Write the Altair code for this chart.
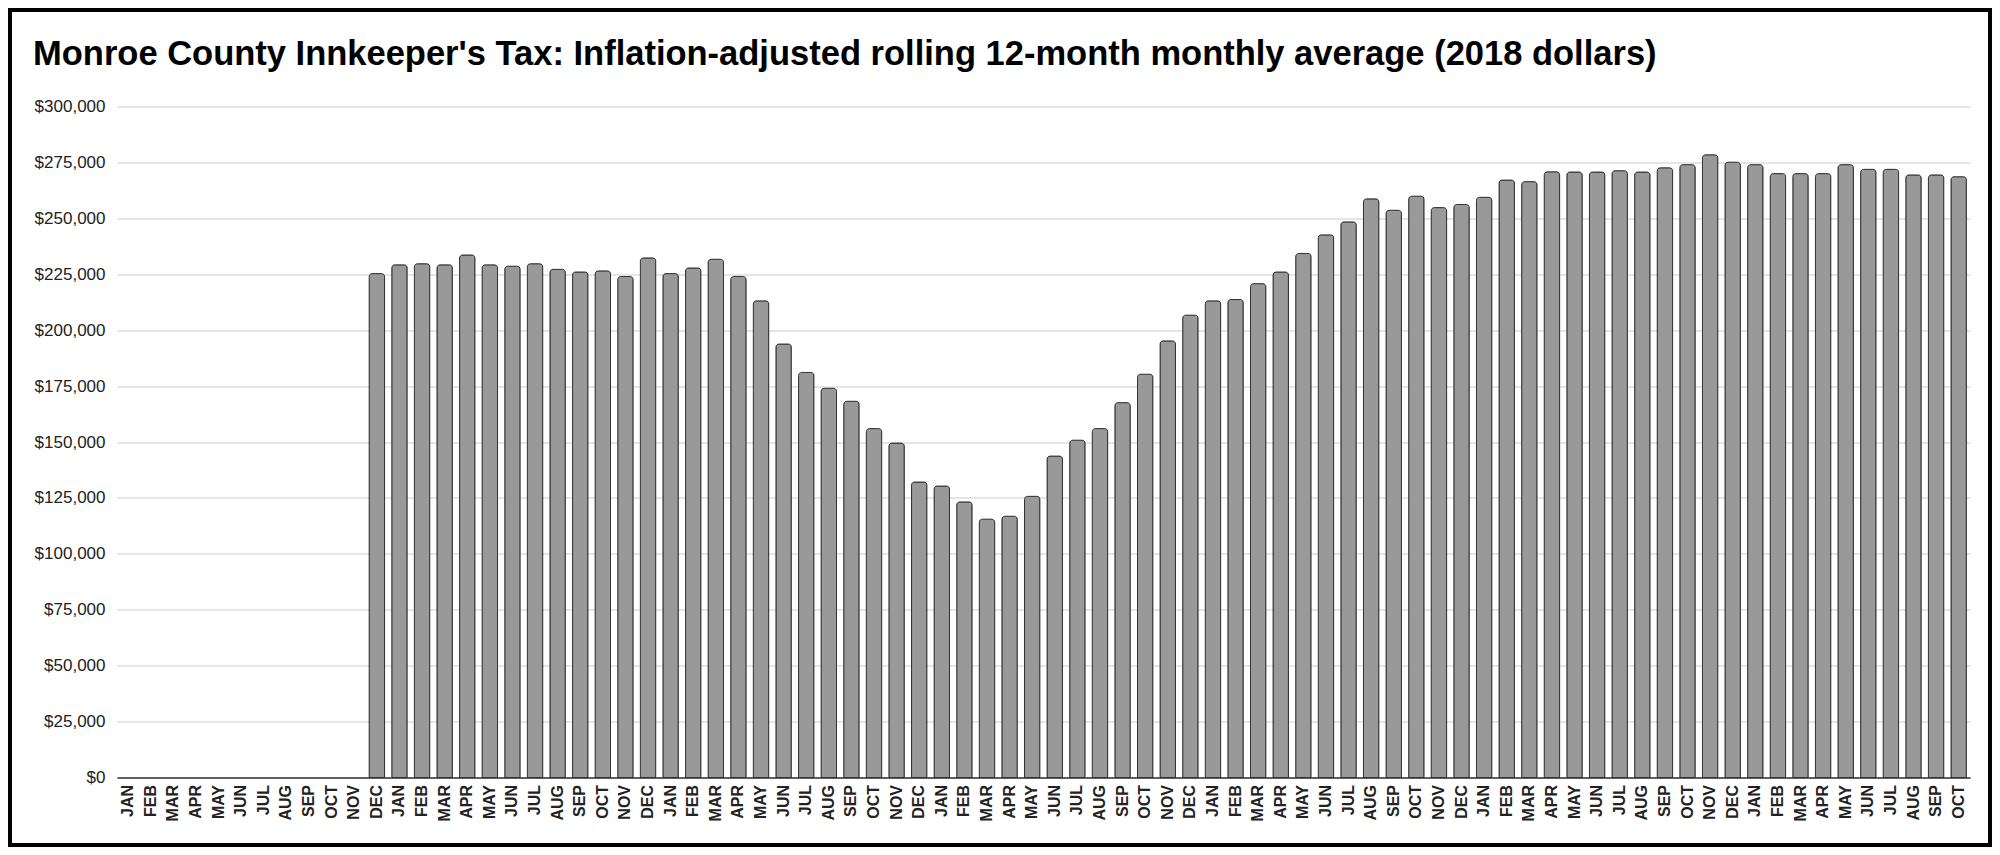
import altair as alt
import pandas as pd

TITLE = "Monroe County Innkeeper's Tax: Inflation-adjusted rolling 12-month monthly average (2018 dollars)"

MONTHS = ["JAN", "FEB", "MAR", "APR", "MAY", "JUN", "JUL", "AUG", "SEP", "OCT", "NOV", "DEC"]
# 82 monthly slots: 6 full years plus JAN-OCT of a seventh
month_labels = (MONTHS * 7)[:82]

# rolling 12-month average, dollars (first 11 months have no value)
values = [None] * 11 + [
    225300,
    # year 2
    229200, 229700, 229200, 233600, 229200, 228600, 229700, 227200, 226000, 226500, 224000, 232300,
    # year 3
    225300, 227800, 231700, 224000, 213100, 193800, 181100, 174000, 168200, 156000, 149500, 132100,
    # year 4
    130300, 123200, 115500, 116800, 125700, 143700, 150800, 156000, 167600, 180300, 195200, 206700,
    # year 5
    213100, 213700, 220800, 226000, 234300, 242600, 248400, 258700, 253600, 259900, 254800, 256200,
    # year 6
    259400, 267100, 266400, 270800, 270700, 270700, 271300, 270700, 272600, 274000, 278400, 275100,
    # year 7
    274000, 270000, 270000, 270000, 274000, 271900, 271900, 269400, 269400, 268600,
]

y_ticks = list(range(0, 300001, 25000))

keys = [f"{i:02d} {m}" for i, m in enumerate(month_labels)]
df = pd.DataFrame({"key": keys, "value": values})

W, H = 1853, 671
PAD = {"left": 109, "top": 98.5, "right": 22, "bottom": 69.5}
FONT = "Liberation Sans"

bars = alt.Chart(df).mark_bar(
    color="#999999",
    stroke="#333333",
    strokeWidth=1,
    cornerRadiusTopLeft=3,
    cornerRadiusTopRight=3,
).encode(
    x=alt.X(
        "key:N",
        sort=None,
        scale=alt.Scale(domain=keys, paddingInner=0.32, paddingOuter=0.16),
        axis=alt.Axis(
            title=None,
            labelAngle=270,
            labelExpr="split(datum.label, ' ')[1]",
            labelFont=FONT,
            labelFontSize=16,
            labelFontWeight="bold",
            labelColor="#222222",
            labelPadding=7,
            ticks=False,
            grid=False,
            domain=True,
            domainColor="#333333",
            domainWidth=1.5,
        ),
    ),
    y=alt.Y(
        "value:Q",
        scale=alt.Scale(domain=[0, 300000], nice=False),
        axis=alt.Axis(
            title=None,
            values=y_ticks,
            format="$,.0f",
            labelFont=FONT,
            labelFontSize=17,
            labelColor="#222222",
            labelPadding=12,
            ticks=False,
            domain=False,
            grid=True,
            gridColor="#cccccc",
            gridWidth=1,
        ),
    ),
)

frame = alt.Chart(alt.Data(values=[{}])).mark_rect(
    fillOpacity=0, stroke="#000000", strokeWidth=4
).encode(
    x=alt.value(-PAD["left"] + 2),
    x2=alt.value(W + PAD["right"] - 2),
    y=alt.value(-PAD["top"] + 2),
    y2=alt.value(H + PAD["bottom"] - 2),
)

chart = alt.layer(bars, frame).properties(
    width=W,
    height=H,
    autosize=alt.AutoSizeParams(type="none"),
    padding=PAD,
    background="white",
    title=alt.TitleParams(
        text=TITLE,
        font=FONT,
        fontSize=34.5,
        fontWeight="bold",
        color="#000000",
        anchor="start",
        frame="group",
        dx=-84,
        dy=64,
        offset=0,
    ),
).configure_view(stroke=None)

chart.save("out.html", embed_options={"renderer": "svg", "actions": False})
